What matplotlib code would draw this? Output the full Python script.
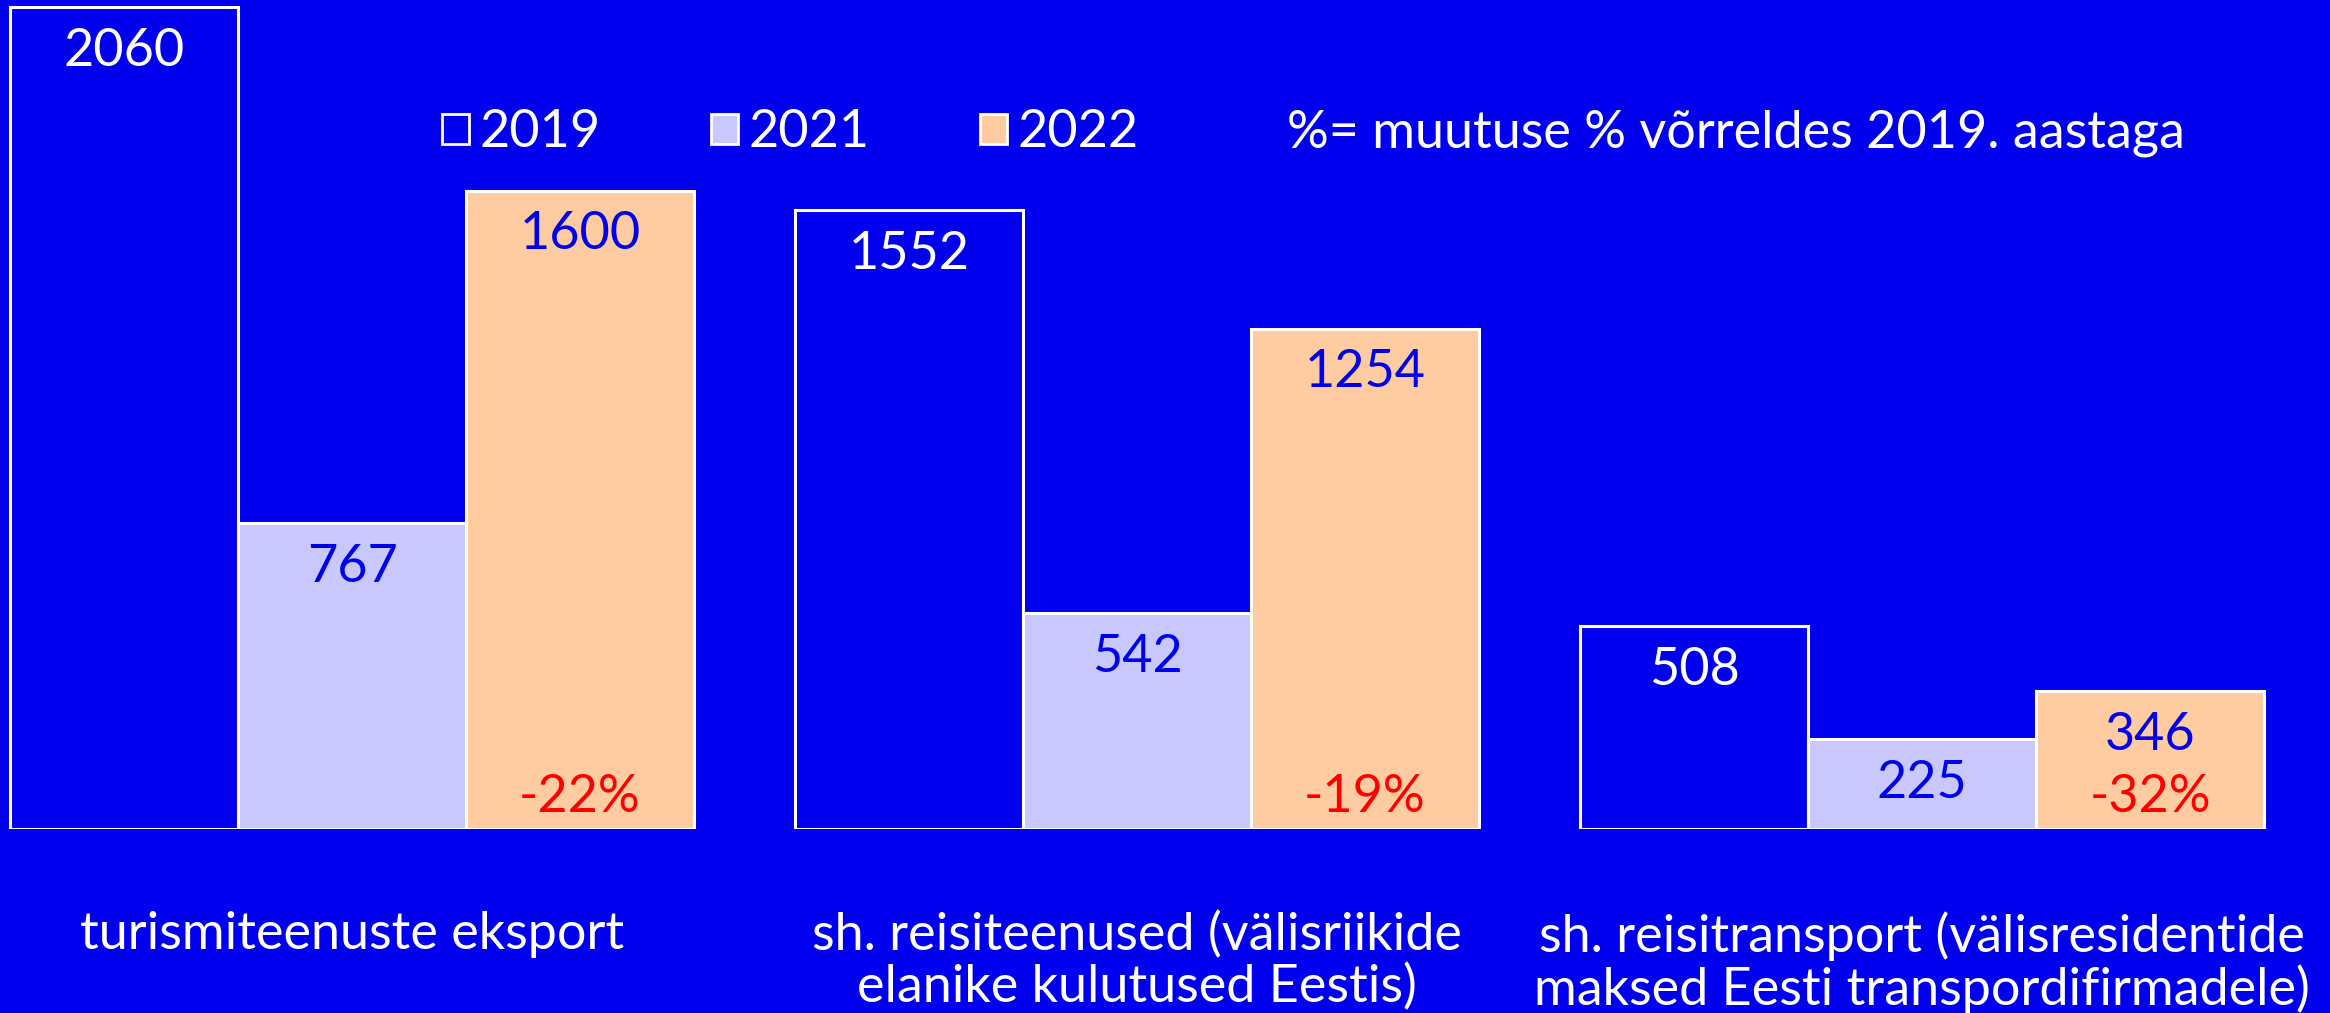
import matplotlib
matplotlib.use("Agg")
import matplotlib.pyplot as plt
from matplotlib.patches import Patch
import numpy as np

categories = ["turismiteenuste eksport",
              "sh. reisiteenused (välisriikide\nelanike kulutused Eestis)",
              "sh. reisitransport (välisresidentide\nmaksed Eesti transpordifirmadele)"]
years = ["2019", "2021", "2022"]
v2019 = [2060, 1552, 508]
v2021 = [767, 542, 225]
v2022 = [1600, 1254, 346]
note = "%= muutuse % võrreldes 2019. aastaga"

BG = "#0000EE"
C21 = "#C8C8FF"
C22 = "#FFCBA0"
RED = "#FF0000"

plt.rcParams['font.family'] = ['Lato', 'DejaVu Sans']
FS = 37.5

fig = plt.figure(figsize=(23.30, 10.13), dpi=100, facecolor=BG)
ax = fig.add_axes([0, (1013 - 829) / 1013, 1, 829 / 1013])
ax.set_facecolor(BG)

x = np.arange(len(categories))
w = 228 / 785
series = [(v2019, BG, "white"), (v2021, C21, BG), (v2022, C22, BG)]
for i, (vals, fc, tc) in enumerate(series):
    xs = x + (i - 1) * w
    ax.bar(xs, vals, width=w, color=fc, edgecolor="white", linewidth=2.2, zorder=2)
    for xi, v in zip(xs, vals):
        ax.annotate(str(v), (xi, v), xytext=(0, -15), textcoords="offset points",
                    ha="center", va="top", fontsize=FS, color=tc, zorder=3)

pct = [round((b - a) / a * 100) for a, b in zip(v2019, v2022)]
for xi, p in zip(x + w, pct):
    ax.annotate(f"{p}%", (xi, 0), xytext=(0, 12.5), textcoords="offset points",
                ha="center", va="baseline", fontsize=FS, color=RED, zorder=3)

ax.set_xlim(-352 / 785, (2330 - 352) / 785)
ax.set_ylim(0, 829 / (822 / 2060))
ax.set_xticks(x)
ax.set_xticklabels(categories, fontsize=FS, color="white", linespacing=1.08)
ax.tick_params(axis="x", length=0, pad=59)
ax.set_yticks([])
for s in ax.spines.values():
    s.set_visible(False)

handles = [Patch(facecolor=BG, edgecolor="white", linewidth=2),
           Patch(facecolor=C21, edgecolor="white", linewidth=2),
           Patch(facecolor=C22, edgecolor="white", linewidth=2),
           Patch(facecolor="none", edgecolor="none")]
labels = years + [note]
leg = fig.legend(handles, labels, loc="center left",
                 bbox_to_anchor=(442 / 2330, 1 - 133 / 1013), ncol=4, frameon=False,
                 fontsize=FS, labelcolor="white", handlelength=0.52, handleheight=0.52,
                 handletextpad=0.2, columnspacing=2.12, borderpad=0, borderaxespad=0)

fig.savefig("out.png", dpi=100, facecolor=BG)
